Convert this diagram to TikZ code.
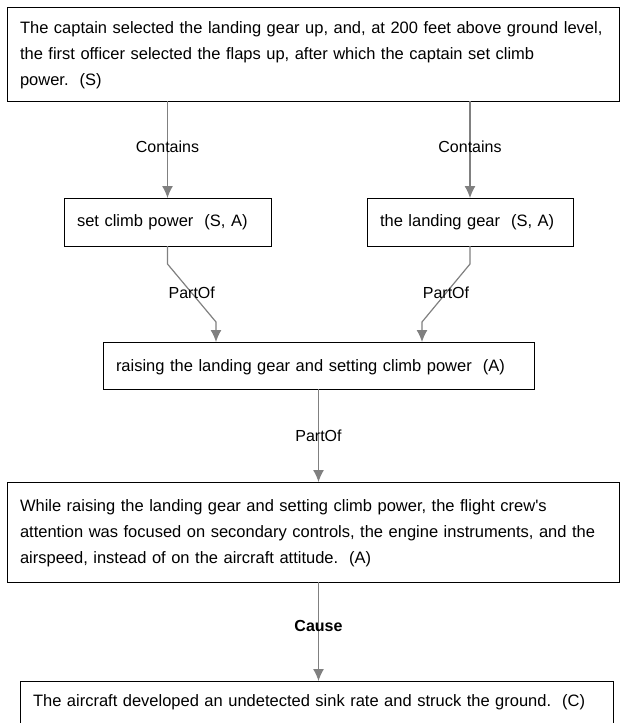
\documentclass[tikz,border=0pt]{standalone}
\usepackage{fontspec}
\setmainfont{Liberation Sans}
\usetikzlibrary{arrows.meta}

\tikzset{
  box/.style={draw, line width=1pt, anchor=north west, align=left,
    inner xsep=13pt, inner ysep=0pt, outer sep=0pt},
  link/.style={draw=gray, line width=1.2pt,
    -{Latex[length=12pt,width=11pt]}},
  lbl/.style={font=\fontsize{16}{19}\selectfont}
}

\begin{document}
\begin{tikzpicture}[x=1pt, y=-1pt, font=\fontsize{16.5}{26}\selectfont]
\useasboundingbox (0,0) rectangle (622,723);
\frenchspacing

% statements
\node[box, text width=586pt, text height=26.5pt, text depth=67.5pt] (captain) at (7,7)
  {The captain selected the landing gear up, and, at 200 feet above ground level,\\
   the first officer selected the flaps up, after which the captain set climb\\
   power.~ (S)};
\node[box, text width=181pt, text height=28pt, text depth=20pt] (climb) at (64,198)
  {set climb power~ (S, A)};
\node[box, text width=180pt, text height=28pt, text depth=20pt] (gear) at (367,198)
  {the landing gear~ (S, A)};
\node[box, text width=405pt, text height=29pt, text depth=18pt] (raise) at (103,342)
  {raising the landing gear and setting climb power~ (A)};
\node[box, text width=586pt, text height=29pt, text depth=71pt] (attention) at (7,482)
  {While raising the landing gear and setting climb power, the flight crew\textquotesingle s\\
   attention was focused on secondary controls, the engine instruments, and the\\
   airspeed, instead of on the aircraft attitude.~ (A)};
\node[box, text width=567pt, text height=25pt, text depth=39pt] (impact) at (20,681)
  {The aircraft developed an undetected sink rate and struck the ground.~ (C)};

% entry points on the joint box
\coordinate (inL) at ([xshift=-102.5pt]raise.north);
\coordinate (inR) at ([xshift=103.5pt]raise.north);

% relations
\draw[link] (climb.north |- captain.south) -- node[lbl, pos=0.47] {Contains} (climb.north);
\draw[link] (gear.north |- captain.south) -- node[lbl, pos=0.47] {Contains} (gear.north);
\draw[link] (climb.south) -- ++(0,18) -- node[lbl] {PartOf} ([yshift=20pt]inL) -- (inL);
\draw[link] (gear.south) -- ++(0,18) -- node[lbl] {PartOf} ([yshift=20pt]inR) -- (inR);
\draw[link] (raise.south) -- node[lbl] {PartOf} (raise.south |- attention.north);
\draw[link] (raise.south |- attention.south) -- node[lbl, pos=0.44, font=\fontsize{16}{19}\selectfont\bfseries] {Cause}
  (raise.south |- impact.north);
\end{tikzpicture}
\end{document}
